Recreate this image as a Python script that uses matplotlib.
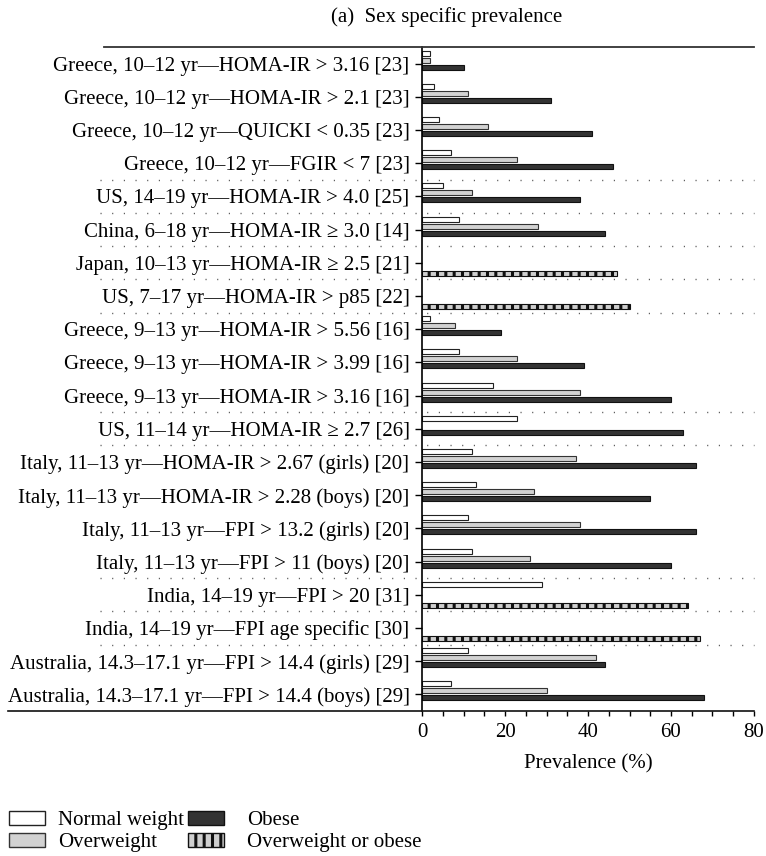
import numpy as np
import matplotlib
matplotlib.use("Agg")
import matplotlib.pyplot as plt
from matplotlib.patches import Patch
from matplotlib.lines import Line2D
from matplotlib.transforms import blended_transform_factory

plt.rcParams["font.family"] = ["Liberation Serif", "DejaVu Serif"]
plt.rcParams["hatch.linewidth"] = 2.2

# Studies, top to bottom
labels = [
    "Greece, 10–12 yr—HOMA-IR > 3.16 [23]",
    "Greece, 10–12 yr—HOMA-IR > 2.1 [23]",
    "Greece, 10–12 yr—QUICKI < 0.35 [23]",
    "Greece, 10–12 yr—FGIR < 7 [23]",
    "US, 14–19 yr—HOMA-IR > 4.0 [25]",
    "China, 6–18 yr—HOMA-IR ≥ 3.0 [14]",
    "Japan, 10–13 yr—HOMA-IR ≥ 2.5 [21]",
    "US, 7–17 yr—HOMA-IR > p85 [22]",
    "Greece, 9–13 yr—HOMA-IR > 5.56 [16]",
    "Greece, 9–13 yr—HOMA-IR > 3.99 [16]",
    "Greece, 9–13 yr—HOMA-IR > 3.16 [16]",
    "US, 11–14 yr—HOMA-IR ≥ 2.7 [26]",
    "Italy, 11–13 yr—HOMA-IR > 2.67 (girls) [20]",
    "Italy, 11–13 yr—HOMA-IR > 2.28 (boys) [20]",
    "Italy, 11–13 yr—FPI > 13.2 (girls) [20]",
    "Italy, 11–13 yr—FPI > 11 (boys) [20]",
    "India, 14–19 yr—FPI > 20 [31]",
    "India, 14–19 yr—FPI age specific [30]",
    "Australia, 14.3–17.1 yr—FPI > 14.4 (girls) [29]",
    "Australia, 14.3–17.1 yr—FPI > 14.4 (boys) [29]",
]

nan = np.nan
normal = [2, 3, 4, 7, 5, 9, nan, nan, 2, 9, 17, 23, 12, 13, 11, 12, 29, nan, 11, 7]
overweight = [2, 11, 16, 23, 12, 28, nan, nan, 8, 23, 38, nan, 37, 27, 38, 26, nan, nan, 42, 30]
obese = [10, 31, 41, 46, 38, 44, nan, nan, 19, 39, 60, 63, 66, 55, 66, 60, nan, nan, 44, 68]
ow_or_obese = [nan, nan, nan, nan, nan, nan, 47, 50, nan, nan, nan, nan, nan, nan, nan, nan, 64, 67, nan, nan]

# dotted separators between study groups
separators = [3.5, 4.5, 5.5, 6.5, 7.5, 10.5, 11.5, 15.5, 16.5, 17.5]

FS = 15
W, H = 766, 856
fig = plt.figure(figsize=(W / 100, H / 100), dpi=100)
ax = fig.add_axes([422 / W, 1 - 711 / H, 332 / W, 664 / H])

styles = {
    "Normal weight": dict(facecolor="white", edgecolor="#222222"),
    "Overweight": dict(facecolor="#d2d2d2", edgecolor="#333333"),
    "Obese": dict(facecolor="#333333", edgecolor="#111111"),
    "Overweight or obese": dict(facecolor="#cfcfcf", edgecolor="#111111", hatch="||"),
}

y = np.arange(len(labels))
slot = 0.21
height = 0.15
for k, (vals, name) in enumerate(zip([normal, overweight, obese, ow_or_obese], styles)):
    ax.barh(y + (k - 1.5) * slot, vals, height=height, linewidth=0.8, **styles[name])

ax.set_xlim(0, 80)
ax.set_ylim(len(labels) - 0.5, -0.5)
ax.set_xticks(np.arange(0, 81, 20))
ax.set_xticks(np.arange(0, 81, 5), minor=True)
ax.set_yticks(y)
ax.set_yticklabels(labels, fontsize=FS)
ax.tick_params(axis="x", which="both", direction="out", length=3.6, width=1, labelsize=FS, pad=5)
ax.tick_params(axis="y", direction="out", length=5, width=1, pad=4)
ax.set_xlabel("Prevalence (%)", fontsize=FS, labelpad=9)

for side in ["top", "right", "bottom"]:
    ax.spines[side].set_visible(False)
ax.spines["left"].set_linewidth(1.2)

# full-width rules at top and bottom
fig.add_artist(Line2D([104 / W, 754 / W], [1 - 47 / H] * 2, color="#333333", lw=1.3))
fig.add_artist(Line2D([8 / W, 754 / W], [1 - 711 / H] * 2, color="#111111", lw=1.2))

trans = blended_transform_factory(fig.transFigure, ax.transData)
for s in separators:
    ax.add_line(Line2D([100 / W, 754 / W], [s, s], transform=trans, clip_on=False,
                       color="#555555", lw=1.0, linestyle=(0, (0.8, 7.6))))

fig.text(447 / W, 1 - 17 / H, "(a)  Sex specific prevalence", fontsize=FS,
         ha="center", va="center")

# legend in two columns, placed separately
columns = [(["Normal weight", "Overweight"], 9, 0.6),
           (["Obese", "Overweight or obese"], 188, 1.1)]
for names, x0, pad in columns:
    handles = [Patch(label=n, **styles[n]) for n in names]
    leg = fig.legend(handles=handles, frameon=False, fontsize=FS,
                     loc="upper left", bbox_to_anchor=(x0 / W, 1 - 811 / H),
                     handlelength=1.75, handleheight=0.65, handletextpad=pad,
                     labelspacing=0.12, borderpad=0, borderaxespad=0)

fig.savefig("out.png", dpi=100)
